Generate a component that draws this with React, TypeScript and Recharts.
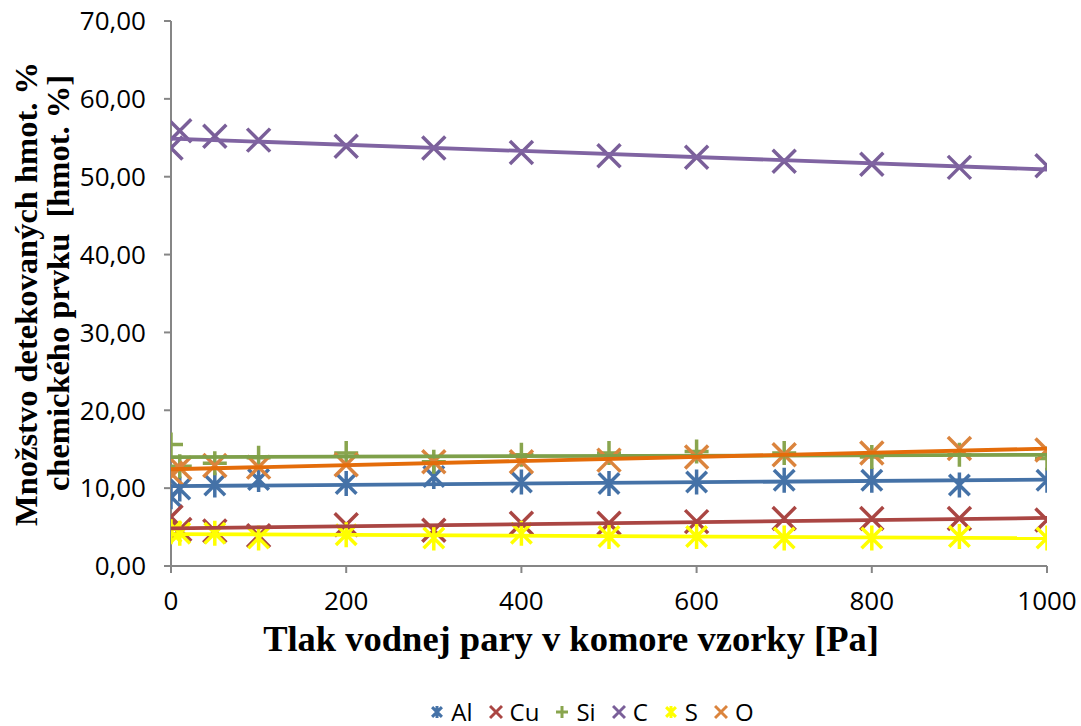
import React from 'react';
import { ScatterChart, Scatter, XAxis, YAxis } from 'recharts';

// pressure of water vapour [Pa]
const pressure = [0, 10, 50, 100, 200, 300, 400, 500, 600, 700, 800, 900, 1000];
// detected amounts [wt. %]
const alValues = [8.9, 9.9, 10.4, 11.1, 10.6, 11.5, 10.8, 10.6, 10.8, 11.0, 11.0, 10.4, 11.0];
const cuValues = [6.3, 4.7, 4.5, 3.9, 5.3, 4.6, 5.5, 5.5, 5.7, 6.1, 6.1, 6.1, 5.9];
const siValues = [15.6, 12.8, 13.2, 13.9, 14.5, 13.4, 14.3, 14.5, 14.7, 14.5, 14.0, 14.3, 13.8];
const cValues = [53.7, 55.9, 55.2, 54.7, 53.9, 53.7, 53.1, 52.7, 52.5, 52.0, 51.6, 51.2, 51.4];
const sValues = [4.4, 4.2, 4.2, 3.6, 4.0, 3.6, 4.2, 3.8, 3.8, 3.6, 3.6, 3.8, 3.6];
const oValues = [11.9, 12.6, 12.9, 12.7, 13.0, 13.4, 13.4, 13.6, 14.0, 14.3, 14.5, 15.1, 14.9];

const xTicks = [0, 200, 400, 600, 800, 1000];
const yTicks = [0, 10, 20, 30, 40, 50, 60, 70];

type Kind = 'asterisk' | 'cross' | 'plus';

const series: { name: string; values: number[]; kind: Kind; color: string; trend: string }[] = [
  { name: 'Al', values: alValues, kind: 'asterisk', color: '#4572A7', trend: '#4572A7' },
  { name: 'Cu', values: cuValues, kind: 'cross', color: '#AA4643', trend: '#AA4643' },
  { name: 'Si', values: siValues, kind: 'plus', color: '#89A54E', trend: '#7EA04A' },
  { name: 'C', values: cValues, kind: 'cross', color: '#7A5F99', trend: '#8064A2' },
  { name: 'S', values: sValues, kind: 'asterisk', color: '#FFFF00', trend: '#FFFF00' },
  { name: 'O', values: oValues, kind: 'cross', color: '#DB843D', trend: '#E46C0A' },
];

function toPoints(values: number[]) {
  return pressure.map((x, i) => ({ x, y: values[i] }));
}

// least-squares linear trend line, as the spreadsheet draws it
function trendPoints(values: number[]) {
  const n = pressure.length;
  const mx = pressure.reduce((a, b) => a + b, 0) / n;
  const my = values.reduce((a, b) => a + b, 0) / n;
  let sxy = 0;
  let sxx = 0;
  for (let i = 0; i < n; i++) {
    sxy += (pressure[i] - mx) * (values[i] - my);
    sxx += (pressure[i] - mx) * (pressure[i] - mx);
  }
  const b = sxy / sxx;
  const a = my - b * mx;
  const x0 = pressure[0];
  const x1 = pressure[n - 1];
  return [
    { x: x0, y: a + b * x0 },
    { x: x1, y: a + b * x1 },
  ];
}

function markerPath(kind: Kind, cx: number, cy: number, r: number) {
  if (kind === 'cross') {
    return `M${cx - r},${cy - r}L${cx + r},${cy + r}M${cx - r},${cy + r}L${cx + r},${cy - r}`;
  }
  if (kind === 'plus') {
    return `M${cx - r},${cy}L${cx + r},${cy}M${cx},${cy - r}L${cx},${cy + r}`;
  }
  const d = r * 0.82;
  return `M${cx - d},${cy - d}L${cx + d},${cy + d}M${cx - d},${cy + d}L${cx + d},${cy - d}M${cx},${cy - r}L${cx},${cy + r}`;
}

function makeShape(kind: Kind, color: string) {
  return (props: any) => {
    const { cx, cy } = props;
    if (cx == null || cy == null) return <g />;
    const r = kind === 'plus' ? 12 : kind === 'asterisk' ? 12.5 : 11.5;
    return <path d={markerPath(kind, cx, cy, r)} stroke={color} strokeWidth={3.5} fill="none" />;
  };
}

const emptyShape = () => <g />;

const fmt = (v: number) => v.toFixed(2).replace('.', ',');

const tickFont = { fontFamily: '"Open Sans", sans-serif', fontSize: 26, fill: '#000' };

const renderXTitle = () => (
  <text
    x={571}
    y={651}
    textAnchor="middle"
    fontFamily='"Liberation Serif", "Times New Roman", serif'
    fontWeight="bold"
    fontSize={36.5}
    fill="#000"
  >
    Tlak vodnej pary v komore vzorky [Pa]
  </text>
);

const renderYTitle = () => (
  <g fontFamily='"Liberation Serif", "Times New Roman", serif' fontWeight="bold" fontSize={32.5} fill="#000">
    <text x={37} y={294} textAnchor="middle" transform="rotate(-90, 37, 294)">
      Množstvo detekovaných hmot. %
    </text>
    <text x={69} y={283} textAnchor="middle" transform="rotate(-90, 69, 283)" xmlSpace="preserve">
      chemického prvku  [hmot. %]
    </text>
  </g>
);

function LegendBox() {
  return (
    <div
      style={{
        position: 'absolute',
        left: 0,
        top: 700,
        width: 1081,
        height: 24,
        display: 'flex',
        justifyContent: 'center',
        alignItems: 'center',
        gap: 16,
        paddingLeft: 103,
        boxSizing: 'border-box',
        fontFamily: '"Open Sans", sans-serif',
        fontSize: 24,
        lineHeight: '24px',
        color: '#000',
      }}
    >
      {series.map((s) => (
        <div key={s.name} style={{ display: 'flex', alignItems: 'center', gap: 7 }}>
          <svg width={14} height={16}>
            <path d={markerPath(s.kind, 7, 8, 6)} stroke={s.color} strokeWidth={3} fill="none" />
          </svg>
          <span>{s.name}</span>
        </div>
      ))}
    </div>
  );
}

export default function App() {
  return (
    <div style={{ position: 'absolute', left: 0, top: 0, width: 1081, height: 726, background: '#fff' }}>
      <ScatterChart width={1081} height={726} margin={{ top: 21, right: 34, bottom: 100, left: 0 }}>
        <XAxis
          type="number"
          dataKey="x"
          domain={[0, 1000]}
          ticks={xTicks}
          allowDataOverflow
          height={60}
          tick={tickFont}
          tickSize={7}
          tickMargin={19}
          stroke="#868686"
          strokeWidth={2}
          label={{ content: renderXTitle }}
        />
        <YAxis
          type="number"
          dataKey="y"
          domain={[0, 70]}
          ticks={yTicks}
          allowDataOverflow
          width={171}
          tick={tickFont}
          tickFormatter={fmt}
          tickSize={7}
          tickMargin={18}
          stroke="#868686"
          strokeWidth={2}
          label={{ content: renderYTitle }}
        />
        {series.map((s) => (
          <Scatter
            key={'m' + s.name}
            name={s.name}
            data={toPoints(s.values)}
            shape={makeShape(s.kind, s.color)}
            isAnimationActive={false}
          />
        ))}
        {series.map((s) => (
          <Scatter
            key={'t' + s.name}
            name={s.name + ' trend'}
            data={trendPoints(s.values)}
            line={{ stroke: s.trend, strokeWidth: 3.8 }}
            lineType="joint"
            shape={emptyShape}
            legendType="none"
            isAnimationActive={false}
          />
        ))}
      </ScatterChart>
      <LegendBox />
    </div>
  );
}
